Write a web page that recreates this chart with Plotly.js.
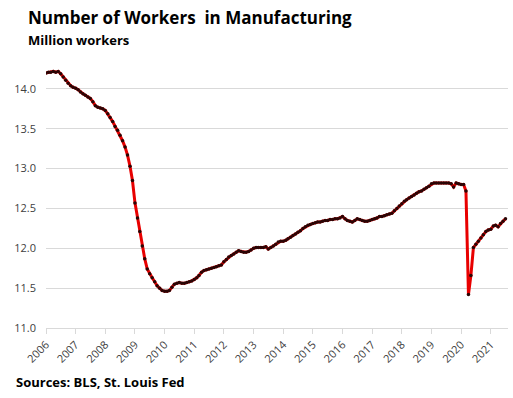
<!DOCTYPE html>
<html>
<head>
<meta charset="utf-8">
<script src="https://cdn.plot.ly/plotly-3.0.1.min.js"></script>
<style>html,body{margin:0;padding:0;background:#fff;}#chart{width:513px;height:398px;}</style>
</head>
<body>
<div id="chart"></div>
<script>
// Manufacturing employment, million workers, monthly (Jan..Dec)
const startYear = 2006;
const v2006 = [14.20, 14.21, 14.21, 14.22, 14.21, 14.22, 14.19, 14.15, 14.11, 14.07, 14.04, 14.02];
const v2007 = [14.01, 13.99, 13.96, 13.94, 13.92, 13.90, 13.88, 13.84, 13.79, 13.77, 13.76, 13.75];
const v2008 = [13.73, 13.69, 13.64, 13.59, 13.53, 13.48, 13.42, 13.35, 13.27, 13.17, 13.03, 12.85];
const v2009 = [12.57, 12.38, 12.21, 12.03, 11.87, 11.74, 11.68, 11.63, 11.58, 11.53, 11.50, 11.47];
const v2010 = [11.46, 11.46, 11.47, 11.51, 11.55, 11.56, 11.57, 11.56, 11.56, 11.57, 11.58, 11.59];
const v2011 = [11.61, 11.63, 11.66, 11.70, 11.72, 11.73, 11.74, 11.75, 11.76, 11.77, 11.78, 11.79];
const v2012 = [11.83, 11.86, 11.89, 11.91, 11.93, 11.95, 11.97, 11.96, 11.95, 11.95, 11.96, 11.98];
const v2013 = [12.00, 12.01, 12.01, 12.01, 12.01, 12.02, 11.99, 12.01, 12.03, 12.05, 12.08, 12.09];
const v2014 = [12.09, 12.10, 12.12, 12.14, 12.16, 12.18, 12.20, 12.22, 12.25, 12.27, 12.29, 12.30];
const v2015 = [12.31, 12.32, 12.33, 12.33, 12.34, 12.35, 12.35, 12.36, 12.36, 12.37, 12.37, 12.38];
const v2016 = [12.40, 12.37, 12.35, 12.34, 12.33, 12.35, 12.37, 12.36, 12.35, 12.34, 12.34, 12.35];
const v2017 = [12.36, 12.37, 12.38, 12.40, 12.40, 12.41, 12.42, 12.43, 12.44, 12.47, 12.50, 12.53];
const v2018 = [12.56, 12.59, 12.61, 12.63, 12.65, 12.67, 12.69, 12.71, 12.72, 12.74, 12.76, 12.78];
const v2019 = [12.81, 12.82, 12.82, 12.82, 12.82, 12.82, 12.82, 12.82, 12.81, 12.77, 12.82, 12.81];
const v2020 = [12.80, 12.80, 12.72, 11.42, 11.66, 12.01, 12.05, 12.09, 12.13, 12.17, 12.21, 12.23];
const v2021 = [12.24, 12.28, 12.29, 12.27, 12.31, 12.34, 12.37];

const yearTicks = ['2006','2007','2008','2009','2010','2011','2012','2013','2014','2015','2016','2017','2018','2019','2020','2021'];

const titleText = 'Number of Workers&nbsp; in Manufacturing';
const subtitleText = 'Million workers';
const sourceText = 'Sources: BLS, St. Louis Fed';

const series = [v2006,v2007,v2008,v2009,v2010,v2011,v2012,v2013,v2014,v2015,v2016,v2017,v2018,v2019,v2020,v2021];
const xs = [], ys = [];
series.forEach((arr, yi) => {
  arr.forEach((v, mi) => {
    const y = startYear + yi;
    xs.push(y + '-' + String(mi + 1).padStart(2, '0') + '-01');
    ys.push(v);
  });
});

// plot area in pixels
const L = 46, R = 508, T = 69, B = 328, W = 513, H = 398;
const px = x => (x - L) / (R - L);
const py = y => (B - y) / (B - T);

const trace = {
  x: xs, y: ys, type: 'scatter', mode: 'lines+markers',
  line: {color: '#e80000', width: 3},
  marker: {color: '#2a0505', size: 3.5},
  hoverinfo: 'skip'
};

const layout = {
  width: W, height: H,
  margin: {l: L, r: W - R, t: T, b: H - B},
  paper_bgcolor: '#ffffff', plot_bgcolor: '#ffffff',
  showlegend: false,
  font: {family: 'Open Sans, sans-serif', color: '#404040', size: 11},
  xaxis: {
    type: 'date',
    range: ['2006-01-01', '2021-08-01'],
    tickvals: yearTicks.map(y => y + '-01-01'),
    ticktext: yearTicks,
    tickangle: -45,
    ticks: 'outside', ticklen: 5, tickcolor: '#d9d9d9', tickwidth: 1,
    showline: true, linecolor: '#d9d9d9', linewidth: 1,
    showgrid: false, zeroline: false,
    tickfont: {family: 'Open Sans, sans-serif', size: 11, color: '#404040'}
  },
  yaxis: {
    range: [11.0, 14.25],
    tickvals: [11.0, 11.5, 12.0, 12.5, 13.0, 13.5, 14.0],
    tickformat: '.1f',
    showgrid: true, gridcolor: '#d9d9d9', gridwidth: 1,
    zeroline: false, showline: false,
    ticks: '', ticklabelstandoff: 9,
    tickfont: {family: 'Open Sans, sans-serif', size: 11, color: '#404040'}
  },
  annotations: [
    {text: '<b>' + titleText + '</b>', xref: 'paper', yref: 'paper', x: px(26), y: py(31), xanchor: 'left', yanchor: 'bottom',
     showarrow: false, font: {family: 'Open Sans, sans-serif', size: 17, color: '#000000'}},
    {text: '<b>' + subtitleText + '</b>', xref: 'paper', yref: 'paper', x: px(26), y: py(51), xanchor: 'left', yanchor: 'bottom',
     showarrow: false, font: {family: 'Open Sans, sans-serif', size: 13, color: '#000000'}},
    {text: '<b>' + sourceText + '</b>', xref: 'paper', yref: 'paper', x: px(14), y: py(393), xanchor: 'left', yanchor: 'bottom',
     showarrow: false, font: {family: 'Open Sans, sans-serif', size: 13, color: '#000000'}}
  ]
};

Plotly.newPlot('chart', [trace], layout, {displayModeBar: false, staticPlot: true});
</script>
</body>
</html>
